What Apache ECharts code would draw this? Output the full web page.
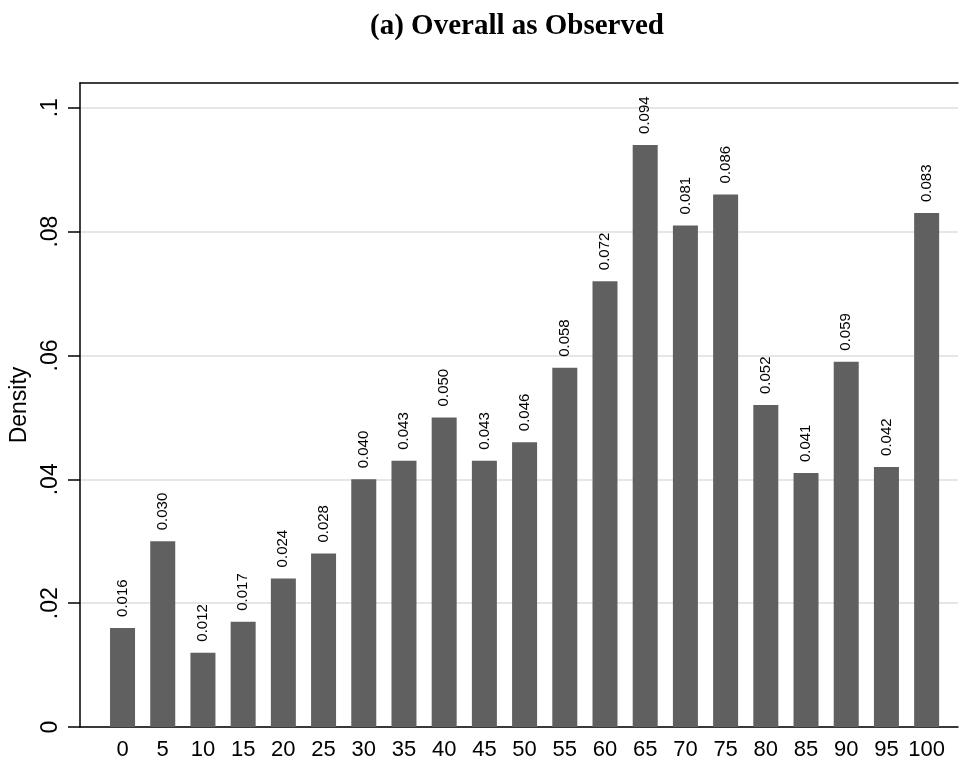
<!DOCTYPE html>
<html>
<head>
<meta charset="utf-8">
<script src="https://cdn.jsdelivr.net/npm/echarts@6/dist/echarts.min.js"></script>
<style>
  html, body { margin: 0; padding: 0; background: #ffffff; }
  #chart { width: 959px; height: 765px; }
</style>
</head>
<body>
<div id="chart"></div>
<script>
// Score bins (percent) and their density shares
const bins = [0, 5, 10, 15, 20, 25, 30, 35, 40, 45, 50, 55, 60, 65, 70, 75, 80, 85, 90, 95, 100];
const density = [0.016, 0.030, 0.012, 0.017, 0.024, 0.028, 0.040, 0.043, 0.050, 0.043, 0.046,
                 0.058, 0.072, 0.094, 0.081, 0.086, 0.052, 0.041, 0.059, 0.042, 0.083];
const yTicks = [0, 0.02, 0.04, 0.06, 0.08, 0.1];
const yTickLabels = ['0', '.02', '.04', '.06', '.08', '.1'];

const sans = 'Liberation Sans, Arial, sans-serif';
const barData = bins.map((b, i) => [b, density[i]]);

const chart = echarts.init(document.getElementById('chart'), null, { renderer: 'canvas' });
chart.setOption({
  backgroundColor: '#ffffff',
  animation: false,
  title: {
    text: '(a) Overall as Observed',
    left: 512,
    textAlign: 'center',
    top: 7,
    textStyle: { fontFamily: 'Liberation Serif, Times New Roman, serif', fontWeight: 'bold', fontSize: 29, color: '#000' }
  },
  grid: { left: 80, right: 1, top: 83, bottom: 38, containLabel: false },
  xAxis: [{
    type: 'value',
    min: -5.29,
    max: 103.9,
    axisLine: { show: true, onZero: false, lineStyle: { color: '#000', width: 1.5 } },
    axisTick: { show: false },
    splitLine: { show: false },
    axisLabel: {
      customValues: bins,
      fontFamily: sans, fontSize: 22, color: '#000', margin: 12
    }
  }, {
    type: 'value',
    position: 'top',
    min: -5.29,
    max: 103.9,
    axisLine: { show: true, onZero: false, lineStyle: { color: '#000', width: 1.5 } },
    axisTick: { show: false },
    axisLabel: { show: false },
    splitLine: { show: false }
  }],
  yAxis: {
    type: 'value',
    min: 0,
    max: 0.104,
    name: 'Density',
    nameLocation: 'middle',
    nameGap: 42,
    nameTextStyle: { fontFamily: sans, fontSize: 23, color: '#000' },
    axisLine: { show: true, onZero: false, lineStyle: { color: '#000', width: 1.5 } },
    axisTick: { show: true, customValues: yTicks, length: 12, lineStyle: { color: '#000', width: 1.5 } },
    splitLine: { show: true, lineStyle: { color: '#dedede', width: 1.5 } },
    axisLabel: {
      customValues: yTicks,
      rotate: 90,
      margin: 18,
      fontFamily: sans, fontSize: 23, color: '#000',
      formatter: v => {
        const i = yTicks.findIndex(t => Math.abs(t - v) < 1e-9);
        return i >= 0 ? yTickLabels[i] : '';
      }
    }
  },
  series: [{
    type: 'bar',
    xAxisIndex: 0,
    data: barData,
    barWidth: 25,
    itemStyle: { color: '#606060' },
    label: {
      show: true,
      position: 'top',
      rotate: 90,
      align: 'left',
      verticalAlign: 'middle',
      distance: 11,
      fontFamily: sans,
      fontSize: 15,
      color: '#000',
      formatter: p => p.value[1].toFixed(3)
    }
  }]
});
</script>
</body>
</html>
